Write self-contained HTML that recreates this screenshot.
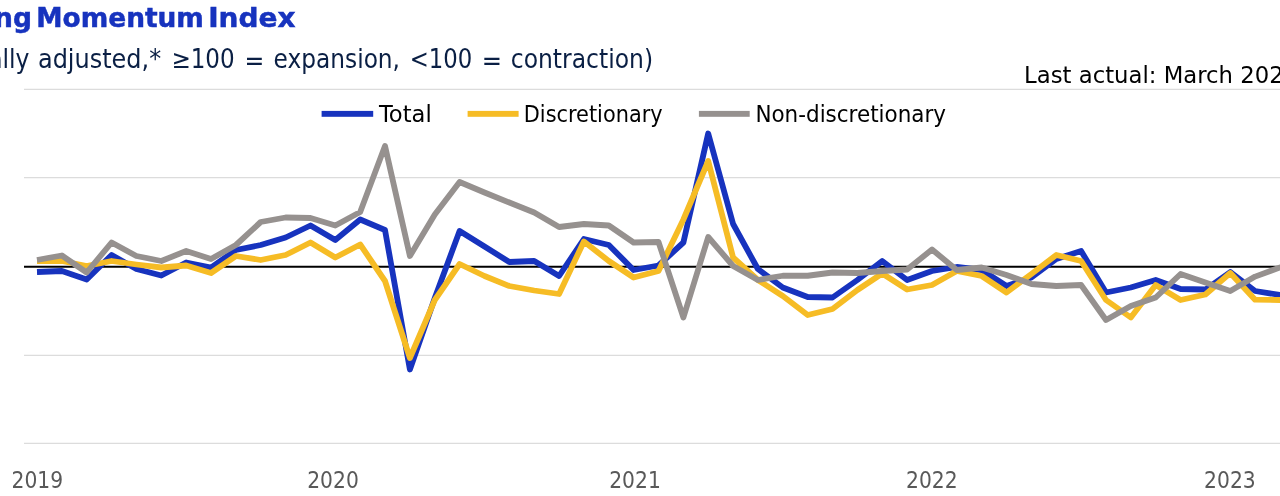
<!DOCTYPE html>
<html lang="en"><head><meta charset="utf-8"><title>Spending Momentum Index</title>
<style>html,body{margin:0;padding:0;background:#fff;overflow:hidden}svg{display:block}</style>
</head><body>
<svg width="1280" height="496" viewBox="0 0 1280 496">
<rect width="1280" height="496" fill="#fff"/>
<g stroke="#dcdcdc" stroke-width="1.15" shape-rendering="auto">
<line x1="24" x2="1280" y1="89.3" y2="89.3"/>
<line x1="24" x2="1280" y1="177.6" y2="177.6"/>
<line x1="24" x2="1280" y1="355.4" y2="355.4"/>
<line x1="24" x2="1280" y1="443.4" y2="443.4"/>
</g>
<line x1="24" x2="1280" y1="266.7" y2="266.7" stroke="#000" stroke-width="2.1"/>
<g fill="none" stroke-width="5.8" stroke-linejoin="round" stroke-linecap="butt">
<polyline stroke="#1733BE" points="37.0,272 61.9,271 86.7,279.5 111.6,255 136.4,269 161.3,275.5 186.2,262.5 211.0,267.5 235.9,250 260.7,245 285.6,237.5 310.5,225.5 335.3,240 360.2,219.5 385.0,230 409.9,369.5 434.8,298 459.6,231 484.5,246.5 509.3,262 534.2,261 559.1,276 583.9,239 608.8,245 633.6,270 658.5,265.5 683.4,242.5 708.2,133.5 733.1,224 757.9,269 782.8,287.5 807.7,297 832.5,297.5 857.4,280 882.2,261 907.1,280 932.0,271 956.8,267 981.7,270 1006.5,286 1031.4,277.5 1056.3,259 1081.1,251 1106.0,292.5 1130.8,287.5 1155.7,280 1180.6,289 1205.4,289.5 1230.3,272 1255.1,291 1280.0,295 1304.9,298"/>
<polyline stroke="#F6BC25" points="37.0,261 61.9,261 86.7,266 111.6,261 136.4,264.5 161.3,267.5 186.2,265.5 211.0,273 235.9,256 260.7,260 285.6,255 310.5,242.5 335.3,257.5 360.2,244.5 385.0,281 409.9,358 434.8,300 459.6,264 484.5,276 509.3,286 534.2,290.5 559.1,294 583.9,241.5 608.8,261 633.6,277.5 658.5,271 683.4,219.5 708.2,161 733.1,257.5 757.9,280 782.8,296 807.7,315 832.5,309 857.4,290 882.2,273.5 907.1,289.5 932.0,285 956.8,271 981.7,276 1006.5,292.5 1031.4,274 1056.3,255 1081.1,261 1106.0,300 1130.8,317.5 1155.7,285 1180.6,300 1205.4,294.5 1230.3,273 1255.1,299.7 1280.0,300 1304.9,300"/>
<polyline stroke="#96918F" points="37.0,260 61.9,255.5 86.7,272.5 111.6,242.5 136.4,256 161.3,261 186.2,251 211.0,259 235.9,245 260.7,222 285.6,217.5 310.5,218 335.3,225.5 360.2,212 385.0,146 409.9,256 434.8,214.5 459.6,182 484.5,192.5 509.3,202.5 534.2,212.5 559.1,227 583.9,224 608.8,225.5 633.6,242.5 658.5,242 683.4,317.5 708.2,237 733.1,266 757.9,280 782.8,275.75 807.7,275.75 832.5,272.5 857.4,273 882.2,271 907.1,269.5 932.0,249.5 956.8,270 981.7,267.5 1006.5,275 1031.4,284 1056.3,286 1081.1,285 1106.0,320 1130.8,306 1155.7,297.5 1180.6,274 1205.4,282.5 1230.3,291 1255.1,276.6 1280.0,267.5 1304.9,259"/>
</g>
<g>
<rect x="321.6" y="110.9" width="51.6" height="5.9" fill="#1733BE"/>
<rect x="467.6" y="110.9" width="51" height="5.9" fill="#F6BC25"/>
<rect x="698.9" y="110.9" width="50.8" height="5.9" fill="#96918F"/>
</g>
<text id="title" y="26.5" font-family="'DejaVu Sans', Verdana, sans-serif" font-weight="bold" font-size="26.4" fill="#1733BE" stroke="#1733BE" stroke-width="0.5"><tspan x="-109" textLength="141" lengthAdjust="spacingAndGlyphs">Spending</tspan><tspan> </tspan><tspan x="36.3" textLength="167.6" lengthAdjust="spacingAndGlyphs">Momentum</tspan><tspan> </tspan><tspan x="208.2" textLength="87.3" lengthAdjust="spacingAndGlyphs">Index</tspan></text>
<text id="sub" y="67.7" font-family="'DejaVu Sans', Tahoma, sans-serif" font-size="25.7" fill="#0A1F44"><tspan x="-103.57" y="67.7" textLength="133.07" lengthAdjust="spacingAndGlyphs">(seasonally</tspan><tspan> </tspan><tspan x="37.98" y="67.7" textLength="123.22" lengthAdjust="spacingAndGlyphs">adjusted,*</tspan><tspan> </tspan><tspan x="171.45" y="67.7" textLength="63.23" lengthAdjust="spacingAndGlyphs">≥100</tspan><tspan> </tspan><tspan x="244.56" y="69.5" textLength="19.83" lengthAdjust="spacingAndGlyphs">=</tspan><tspan> </tspan><tspan x="273.56" y="67.7" textLength="126.49" lengthAdjust="spacingAndGlyphs">expansion,</tspan><tspan> </tspan><tspan x="409.69" y="67.7" textLength="62.58" lengthAdjust="spacingAndGlyphs">&lt;100</tspan><tspan> </tspan><tspan x="481.79" y="69.5" textLength="20.30" lengthAdjust="spacingAndGlyphs">=</tspan><tspan> </tspan><tspan x="510.78" y="67.7" textLength="142.26" lengthAdjust="spacingAndGlyphs">contraction)</tspan></text>
<g font-family="'DejaVu Sans', Verdana, sans-serif" font-size="22.1" fill="#000">
<text id="l1" x="378.9" y="121.5" textLength="52.8" lengthAdjust="spacingAndGlyphs">Total</text>
<text id="l2" x="523.8" y="121.5" textLength="138.8" lengthAdjust="spacingAndGlyphs">Discretionary</text>
<text id="l3" x="755.4" y="121.5" textLength="190.7" lengthAdjust="spacingAndGlyphs">Non-discretionary</text>
<text id="last" x="1024.1" y="82.5" font-size="23.2" textLength="274" lengthAdjust="spacingAndGlyphs">Last actual: March 2023</text>
</g>
<g font-family="'DejaVu Sans', Tahoma, sans-serif" font-size="22.3" fill="#595959" text-anchor="middle">
<text x="37.3" y="487.6" textLength="51.6" lengthAdjust="spacingAndGlyphs">2019</text>
<text x="333" y="487.6" textLength="51.6" lengthAdjust="spacingAndGlyphs">2020</text>
<text x="635" y="487.6" textLength="51.6" lengthAdjust="spacingAndGlyphs">2021</text>
<text x="931.8" y="487.6" textLength="51.6" lengthAdjust="spacingAndGlyphs">2022</text>
<text x="1229.9" y="487.6" textLength="51.6" lengthAdjust="spacingAndGlyphs">2023</text>
</g>
</svg>
</body></html>
